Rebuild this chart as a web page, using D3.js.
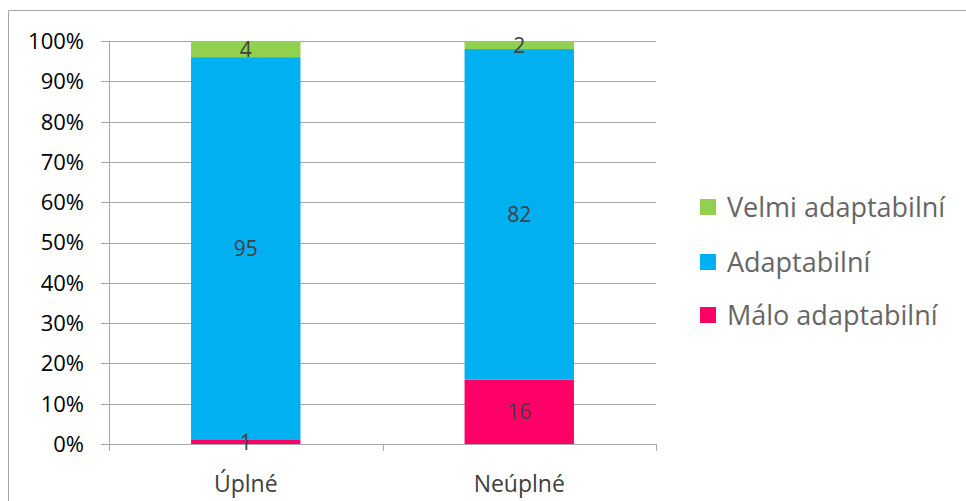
<!DOCTYPE html>
<html>
<head>
<meta charset="utf-8">
<script src="https://cdn.jsdelivr.net/npm/d3@7"></script>
<style>
  html, body { margin: 0; padding: 0; background: #fff; }
  svg { display: block; font-family: "Open Sans", "DejaVu Sans", sans-serif; }
</style>
</head>
<body>
<svg id="chart" width="966" height="501"></svg>
<script>
// Categories and stacked values (percent of each group)
const categories = ["Úplné", "Neúplné"];
const seriesNames = ["Málo adaptabilní", "Adaptabilní", "Velmi adaptabilní"];
const maloValues = [1, 16];
const adaptValues = [95, 82];
const velmiValues = [4, 2];
const yTickLabels = ["0%", "10%", "20%", "30%", "40%", "50%", "60%", "70%", "80%", "90%", "100%"];
const seriesColors = ["#FF0066", "#00B0F0", "#92D050"];

const svg = d3.select("#chart");

// Outer frame (top and left edges visible)
svg.append("line").attr("x1", 8.5).attr("x2", 966).attr("y1", 10.5).attr("y2", 10.5)
  .attr("stroke", "#a6a6a6").attr("stroke-width", 1);
svg.append("line").attr("x1", 8.5).attr("x2", 8.5).attr("y1", 10.5).attr("y2", 501)
  .attr("stroke", "#a6a6a6").attr("stroke-width", 1);

const plot = { left: 109, right: 656, top: 41, bottom: 444 };

const x = d3.scaleBand().domain(categories).range([plot.left, plot.right]);
const y = d3.scaleLinear().domain([0, 100]).range([plot.bottom, plot.top]);

// Build stacked data
const rows = categories.map((c, i) => ({
  cat: c,
  "Málo adaptabilní": maloValues[i],
  "Adaptabilní": adaptValues[i],
  "Velmi adaptabilní": velmiValues[i]
}));
const stack = d3.stack().keys(seriesNames)
  .offset(d3.stackOffsetExpand);
const layers = stack(rows);

// Horizontal gridlines
const yTicks = d3.range(0, 101, 10);
svg.append("g").selectAll("line").data(yTicks).join("line")
  .attr("x1", plot.left - 8).attr("x2", plot.right)
  .attr("y1", d => Math.round(y(d)) + 0.5).attr("y2", d => Math.round(y(d)) + 0.5)
  .attr("stroke", "#a6a6a6").attr("stroke-width", 1);

// Y axis line
svg.append("line").attr("x1", plot.left + 0.5).attr("x2", plot.left + 0.5)
  .attr("y1", plot.top).attr("y2", plot.bottom + 7)
  .attr("stroke", "#a6a6a6");

// Category tick marks
const xTickPos = [plot.left, plot.left + x.step(), plot.right];
svg.append("g").selectAll("line").data(xTickPos).join("line")
  .attr("x1", d => Math.round(d) + 0.5).attr("x2", d => Math.round(d) + 0.5)
  .attr("y1", plot.bottom).attr("y2", plot.bottom + 7)
  .attr("stroke", "#a6a6a6");

// Y tick labels
svg.append("g").selectAll("text").data(yTicks).join("text")
  .attr("x", 84).attr("y", d => y(d))
  .attr("dy", "0.36em")
  .attr("text-anchor", "end")
  .attr("font-size", 22)
  .attr("fill", "#000")
  .text((d, i) => yTickLabels[i]);

// Bars
const barW = x.step() * 0.4;
const barX = c => x(c) + x.bandwidth() / 2 - barW / 2;

const g = svg.append("g");
layers.forEach((layer, si) => {
  g.append("g").selectAll("rect").data(layer).join("rect")
    .attr("x", d => barX(d.data.cat))
    .attr("width", barW)
    .attr("y", d => y(d[1] * 100))
    .attr("height", d => y(d[0] * 100) - y(d[1] * 100))
    .attr("fill", seriesColors[si]);
});

// Data labels
layers.forEach((layer, si) => {
  g.append("g").selectAll("text").data(layer).join("text")
    .attr("x", d => x(d.data.cat) + x.bandwidth() / 2)
    .attr("y", d => y((d[0] + d[1]) / 2 * 100))
    .attr("dy", "0.36em")
    .attr("text-anchor", "middle")
    .attr("font-size", 21)
    .attr("fill", "#404040")
    .text(d => d.data[layer.key]);
});

// Category labels
svg.append("g").selectAll("text").data(categories).join("text")
  .attr("x", d => x(d) + x.bandwidth() / 2)
  .attr("y", 484).attr("dy", "0.36em")
  .attr("text-anchor", "middle")
  .attr("font-size", 23)
  .attr("fill", "#404040")
  .text(d => d);

// Legend
const legendItems = seriesNames.slice().reverse();
const legendColors = seriesColors.slice().reverse();
const legendY = [207, 262, 315];
const leg = svg.append("g");
legendItems.forEach((name, i) => {
  leg.append("rect").attr("x", 700).attr("y", legendY[i] - 8)
    .attr("width", 16).attr("height", 16).attr("fill", legendColors[i]);
  leg.append("text").attr("x", 727).attr("y", legendY[i])
    .attr("dy", "0.36em").attr("font-size", 27).attr("fill", "#666")
    .text(name);
});
</script>
</body>
</html>
